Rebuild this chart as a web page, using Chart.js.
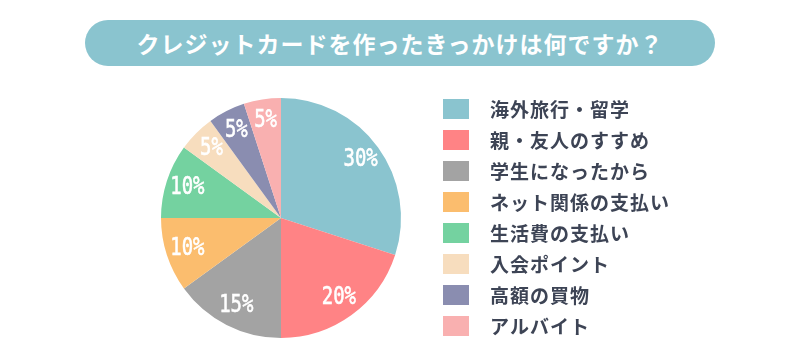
<!DOCTYPE html>
<html>
<head>
<meta charset="utf-8">
<script src="https://cdn.jsdelivr.net/npm/chart.js@4"></script>
<style>
  body { margin: 0; background: #fff; }
  .wrap { position: relative; width: 800px; height: 360px; }
  .title {
    position: absolute; left: 85px; top: 20px; width: 630px; height: 46px;
    background: #8ac4cf; border-radius: 23px; color: #fff;
    font: bold 23px "Noto Sans CJK JP", sans-serif; letter-spacing: 1px;
    display: flex; align-items: center; justify-content: center;
  }
  canvas { position: absolute; left: 0; top: 0; }
</style>
</head>
<body>
<div class="wrap">
  <div class="title">クレジットカードを作ったきっかけは何ですか？</div>
  <canvas id="chart" width="800" height="360"></canvas>
</div>
<script>
// --- data ---
const labels = ['海外旅行・留学', '親・友人のすすめ', '学生になったから', 'ネット関係の支払い',
                '生活費の支払い', '入会ポイント', '高額の買物', 'アルバイト'];
const values = [30, 20, 15, 10, 10, 5, 5, 5];
const colors = ['#8ac4cf', '#ff8385', '#a3a3a3', '#fbbd6e', '#74d2a0', '#f7ddbe', '#8a8db0', '#f9b0b0'];

// percentage labels inside slices (narrow monospace look)
const sliceLabels = {
  id: 'sliceLabels',
  afterDatasetsDraw(chart) {
    const ctx = chart.ctx;
    const meta = chart.getDatasetMeta(0);
    ctx.save();
    ctx.fillStyle = '#fff';
    ctx.strokeStyle = '#fff';
    ctx.lineWidth = 0.6;
    ctx.font = '24px "DejaVu Sans Mono", monospace';
    ctx.textAlign = 'center';
    ctx.textBaseline = 'middle';
    meta.data.forEach((arc, i) => {
      const mid = (arc.startAngle + arc.endAngle) / 2;
      const r = arc.outerRadius * 0.82;
      const x = arc.x + Math.cos(mid) * r;
      const y = arc.y + Math.sin(mid) * r;
      ctx.save();
      ctx.translate(x, y);
      ctx.scale(0.79, 1);
      ctx.fillText(values[i] + '%', 0, 0);
      ctx.strokeText(values[i] + '%', 0, 0);
      ctx.restore();
    });
    ctx.restore();
  }
};

// legend on the right
const sideLegend = {
  id: 'sideLegend',
  afterDraw(chart) {
    const ctx = chart.ctx;
    ctx.save();
    ctx.font = 'bold 19px "Noto Sans CJK JP", sans-serif';
    ctx.letterSpacing = '1px';
    ctx.textBaseline = 'middle';
    labels.forEach((lab, i) => {
      const y = 109 + i * 31;
      ctx.fillStyle = colors[i];
      ctx.fillRect(443, y - 10, 26, 20);
      ctx.fillStyle = '#3d4455';
      ctx.fillText(lab, 490, y + 1);
    });
    ctx.restore();
  }
};

new Chart(document.getElementById('chart'), {
  type: 'pie',
  data: {
    labels: labels,
    datasets: [{
      data: values,
      backgroundColor: colors,
      borderWidth: 0
    }]
  },
  options: {
    responsive: false,
    animation: false,
    layout: { padding: { left: 161, right: 399, top: 98, bottom: 22 } },
    plugins: {
      legend: { display: false },
      tooltip: { enabled: false }
    }
  },
  plugins: [sliceLabels, sideLegend]
});
</script>
</body>
</html>
